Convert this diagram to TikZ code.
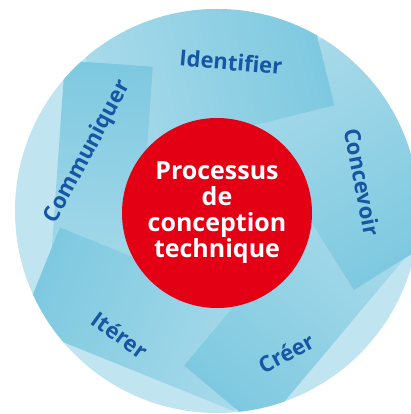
\documentclass[tikz,border=0pt]{standalone}
\usepackage{fontspec}
\setsansfont{Open Sans}
\usepackage{tikz}
\definecolor{ringlight}{RGB}{192,229,240}
\definecolor{carddark}{RGB}{126,201,224}
\definecolor{cardlight}{RGB}{168,218,234}
\definecolor{labelblue}{RGB}{22,86,162}
\definecolor{corered}{RGB}{227,0,20}
\newcommand{\ringradius}{202pt}
\newcommand{\coresize}{190pt}
\newcommand{\cornerdist}{158pt}
\newcommand{\cardlength}{230pt}
\newcommand{\stepcard}[2]{%
    \begin{scope}[transform canvas={shift={(#1:\cornerdist)}, rotate=#1+152}]
        \shade[card] (0,0) rectangle (\cardlength,-#2);
    \end{scope}}
\tikzset{
    ring/.style={fill=ringlight},
    card/.style={left color=carddark, right color=cardlight},
    core/.style={circle, fill=corered, minimum size=\coresize, inner sep=0pt,
        text=white, align=center, font=\sffamily\bfseries\fontsize{25}{26}\selectfont},
    steplabel/.style={text=labelblue, inner sep=0pt,
        font=\sffamily\bfseries\fontsize{22}{22}\selectfont},
}

\begin{document}
\begin{tikzpicture}[x=1pt, y=1pt]
    \useasboundingbox (-217,-203) rectangle (194,211);
    \fill[ring] (0,0) circle[radius=\ringradius];

    \begin{scope}
        \clip (0,0) circle[radius=\ringradius];
        \stepcard{-30}{130pt}   % concevoir
        \stepcard{42}{140pt}    % identifier
        \stepcard{114}{88pt}    % communiquer
        \stepcard{-174}{105pt}  % iterer
        \stepcard{-102}{100pt}  % creer
        % concevoir once more, lower part only, so it lies over creer
        \clip (-217,-203) rectangle (194,60);
        \stepcard{-30}{130pt}
    \end{scope}

    \node[core] (core) at (0,-2) {Processus\\de\\conception\\technique};

    \node[steplabel, rotate=-5] (identifier) at (14,149) {Identifier};
    \node[steplabel, rotate=-79] (concevoir) at (145,29) {Concevoir};
    \node[steplabel, rotate=28] (creer) at (69,-142) {Créer};
    \node[steplabel, rotate=-36] (iterer) at (-97,-124) {Itérer};
    \node[steplabel, rotate=62] (communiquer) at (-129,59) {Communiquer};
\end{tikzpicture}
\end{document}
